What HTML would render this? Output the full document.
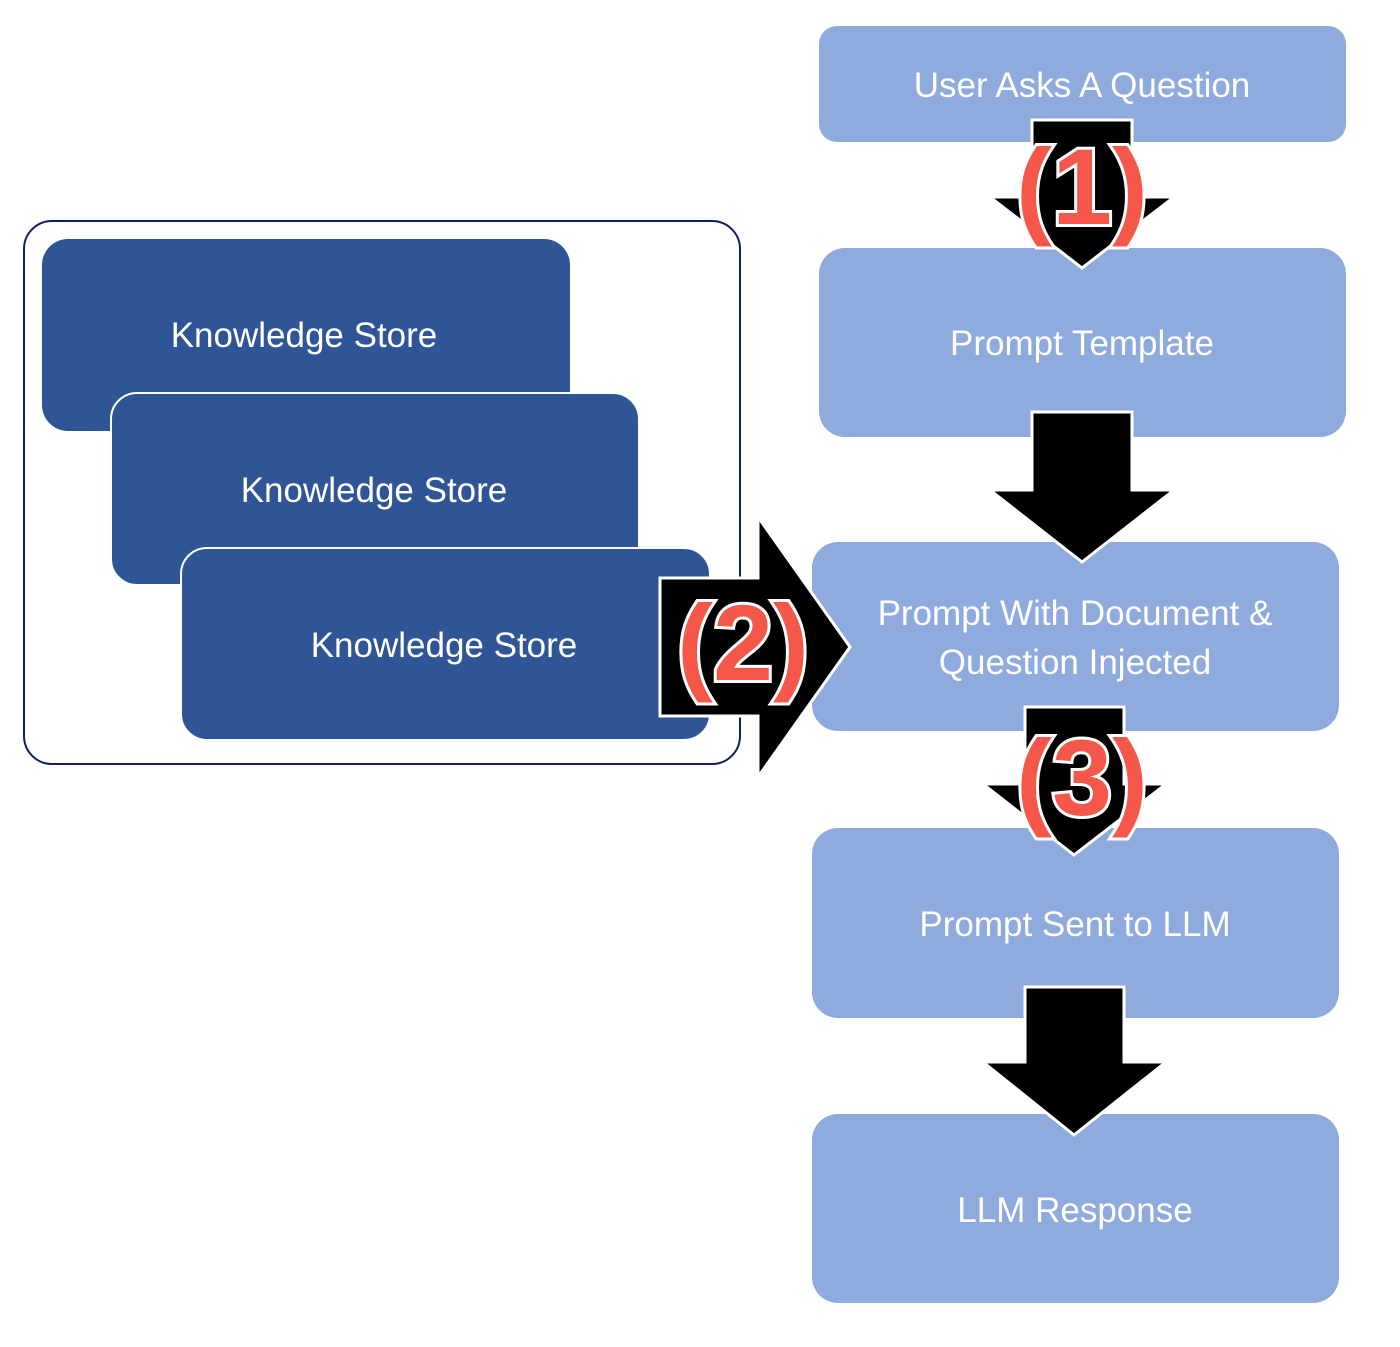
<!DOCTYPE html>
<html><head><meta charset="utf-8"><style>
html,body{margin:0;padding:0;background:#fff;}
svg{display:block;}
text{font-family:"Liberation Sans",Arial,sans-serif;}
.l{fill:#fff;font-size:35px;text-anchor:middle;}
.n{fill:#f5584b;stroke:#fff;stroke-width:6;paint-order:stroke;font-weight:bold;font-size:108px;text-anchor:middle;}
.a{fill:#000;stroke:#fff;stroke-width:3;stroke-linejoin:miter;}
</style></head><body>
<svg width="1400" height="1347" viewBox="0 0 1400 1347">
<rect x="24" y="221" width="716" height="543" rx="28" fill="#fff" stroke="#0f1f66" stroke-width="2"/>
<rect x="42" y="239" width="528" height="192" rx="26" fill="#2f5597"/>
<text class="l" x="304" y="347">Knowledge Store</text>
<rect x="111" y="393" width="528" height="192" rx="26" fill="#2f5597" stroke="#fff" stroke-width="2"/>
<text class="l" x="374" y="502">Knowledge Store</text>
<rect x="181" y="548" width="529" height="192" rx="26" fill="#2f5597" stroke="#fff" stroke-width="2"/>
<text class="l" x="444" y="657">Knowledge Store</text>

<rect x="819" y="26" width="527" height="116" rx="18" fill="#8faadc"/>
<text class="l" x="1082" y="97">User Asks A Question</text>
<rect x="819" y="248" width="527" height="189" rx="26" fill="#8faadc"/>
<text class="l" x="1082" y="355">Prompt Template</text>
<rect x="812" y="542" width="527" height="189" rx="26" fill="#8faadc"/>
<text class="l" x="1075" y="625">Prompt With Document &amp;</text>
<text class="l" x="1075" y="674">Question Injected</text>
<rect x="812" y="828" width="527" height="190" rx="26" fill="#8faadc"/>
<text class="l" x="1075" y="936">Prompt Sent to LLM</text>
<rect x="812" y="1114" width="527" height="189" rx="26" fill="#8faadc"/>
<text class="l" x="1075" y="1222">LLM Response</text>

<polygon class="a" points="1032,120 1132,120 1132,197 1174,197 1082,268 990,197 1032,197"/>
<polygon class="a" points="1032,412 1132,412 1132,490 1174,490 1082,562 990,490 1032,490"/>
<polygon class="a" points="1025,707 1124,707 1124,784 1166,784 1074,855 983,784 1025,784"/>
<polygon class="a" points="1025,987 1124,987 1124,1062 1166,1062 1074,1135 983,1062 1025,1062"/>
<polygon class="a" points="660,578 758,578 758,517 850,647 758,777 758,716 660,716"/>

<text class="n" x="1082" y="224">(1)</text>
<text class="n" x="743" y="680">(2)</text>
<text class="n" x="1082" y="815">(3)</text>
</svg>
</body></html>
